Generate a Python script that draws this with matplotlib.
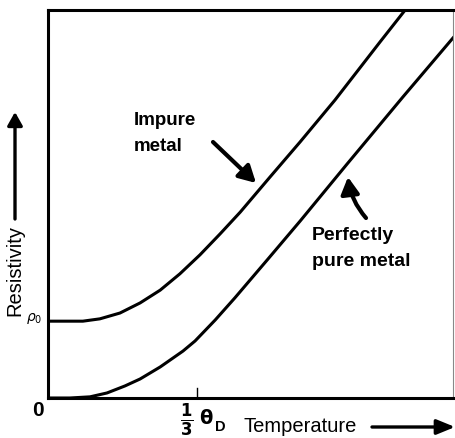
import matplotlib
matplotlib.use("Agg")
import matplotlib.pyplot as plt

plt.rcParams['font.family'] = ['Liberation Sans', 'DejaVu Sans']

# Temperatura en unidades de theta_D, resistividad en unidades arbitrarias
t_pure = [0.0, 0.049, 0.094, 0.132, 0.172, 0.206, 0.251, 0.302, 0.329, 0.374, 0.418,
          0.492, 0.564, 0.669, 0.794, 0.906]
rho_pure = [0.0, 0.0, 0.003, 0.013, 0.031, 0.049, 0.080, 0.121, 0.147, 0.201, 0.258,
            0.358, 0.456, 0.603, 0.776, 0.928]

t_impure = [0.0, 0.078, 0.116, 0.161, 0.206, 0.251, 0.295, 0.340, 0.385, 0.430, 0.497,
            0.564, 0.642, 0.743, 0.799]
rho_impure = [0.198, 0.198, 0.204, 0.219, 0.245, 0.278, 0.320, 0.369, 0.423, 0.479, 0.570,
              0.660, 0.768, 0.918, 1.0]

tick_t = 1 / 3

W, H = 455, 438
fig = plt.figure(figsize=(W / 100, H / 100), dpi=100)
ax = fig.add_axes([48 / W, 40 / H, 405 / W, 388 / H])


def px(x, y):
    # pixeles de la imagen (origen arriba a la izquierda) a pixeles de figura
    return (x, H - y)


ax.plot(t_pure, rho_pure, color="black", lw=2.2, solid_joinstyle="round")
ax.plot(t_impure, rho_impure, color="black", lw=2.2, solid_joinstyle="round")

ax.set_xlim(0, 0.906)
ax.set_ylim(0, 1.0)
ax.set_xticks([])
ax.set_yticks([])
for s in ["left", "bottom", "top"]:
    ax.spines[s].set_linewidth(2.2)
ax.spines["right"].set_linewidth(0.8)
ax.spines["right"].set_color("#888888")

# marca de 1/3 theta_D
ax.plot([tick_t, tick_t], [0, 0.025], color="black", lw=1.0, clip_on=False)

# textos de los ejes
ax.annotate("0", px(38, 410), xycoords="figure pixels", fontsize=15, fontweight="bold",
            ha="center", va="center")
ax.annotate(r"$\rho_0$", px(34, 319), xycoords="figure pixels", fontsize=10,
            ha="center", va="center")
ax.annotate(r"$\mathbf{\frac{1}{3}}$", px(187, 420), xycoords="figure pixels", fontsize=17,
            ha="center", va="center")
ax.annotate("θ", px(206, 418), xycoords="figure pixels", fontsize=14, fontweight="bold",
            family=["DejaVu Sans"], ha="center", va="center")
ax.annotate("D", px(220, 427), xycoords="figure pixels", fontsize=10.5, fontweight="bold",
            ha="center", va="center")
ax.annotate("Temperature", px(243, 432), xycoords="figure pixels", fontsize=14.5,
            ha="left", va="baseline")
ax.annotate("Resistivity", px(15, 270), xycoords="figure pixels", fontsize=14.5, rotation=90,
            ha="center", va="center")

# flechas de los ejes
ax.annotate("", xy=px(455, 427), xytext=px(372, 427), xycoords="figure pixels",
            arrowprops=dict(arrowstyle="-|>,head_length=1.1,head_width=0.45", lw=2.4,
                            color="black", shrinkA=0, shrinkB=0))
ax.annotate("", xy=px(15, 112), xytext=px(15, 219), xycoords="figure pixels",
            arrowprops=dict(arrowstyle="-|>,head_length=0.8,head_width=0.45", lw=2.4,
                            color="black", shrinkA=0, shrinkB=0))

# etiquetas de las curvas
ax.annotate("Impure", px(134, 125), xycoords="figure pixels", fontsize=13.5,
            fontweight="bold", ha="left", va="baseline")
ax.annotate("metal", px(134, 151), xycoords="figure pixels", fontsize=13.5,
            fontweight="bold", ha="left", va="baseline")
ax.annotate("", xy=px(256, 183), xytext=px(213, 142), xycoords="figure pixels",
            arrowprops=dict(arrowstyle="-|>,head_length=1.0,head_width=0.55", lw=3.0,
                            color="black", shrinkA=0, shrinkB=0))

ax.annotate("Perfectly", px(312, 240), xycoords="figure pixels", fontsize=14,
            fontweight="bold", ha="left", va="baseline")
ax.annotate("pure metal", px(312, 266), xycoords="figure pixels", fontsize=14,
            fontweight="bold", ha="left", va="baseline")
ax.annotate("", xy=px(348, 177), xytext=px(366, 218), xycoords="figure pixels",
            arrowprops=dict(arrowstyle="-|>,head_length=1.0,head_width=0.55", lw=3.0,
                            color="black", shrinkA=0, shrinkB=0,
                            connectionstyle="arc3,rad=-0.15"))

fig.savefig("out.png", dpi=100)
